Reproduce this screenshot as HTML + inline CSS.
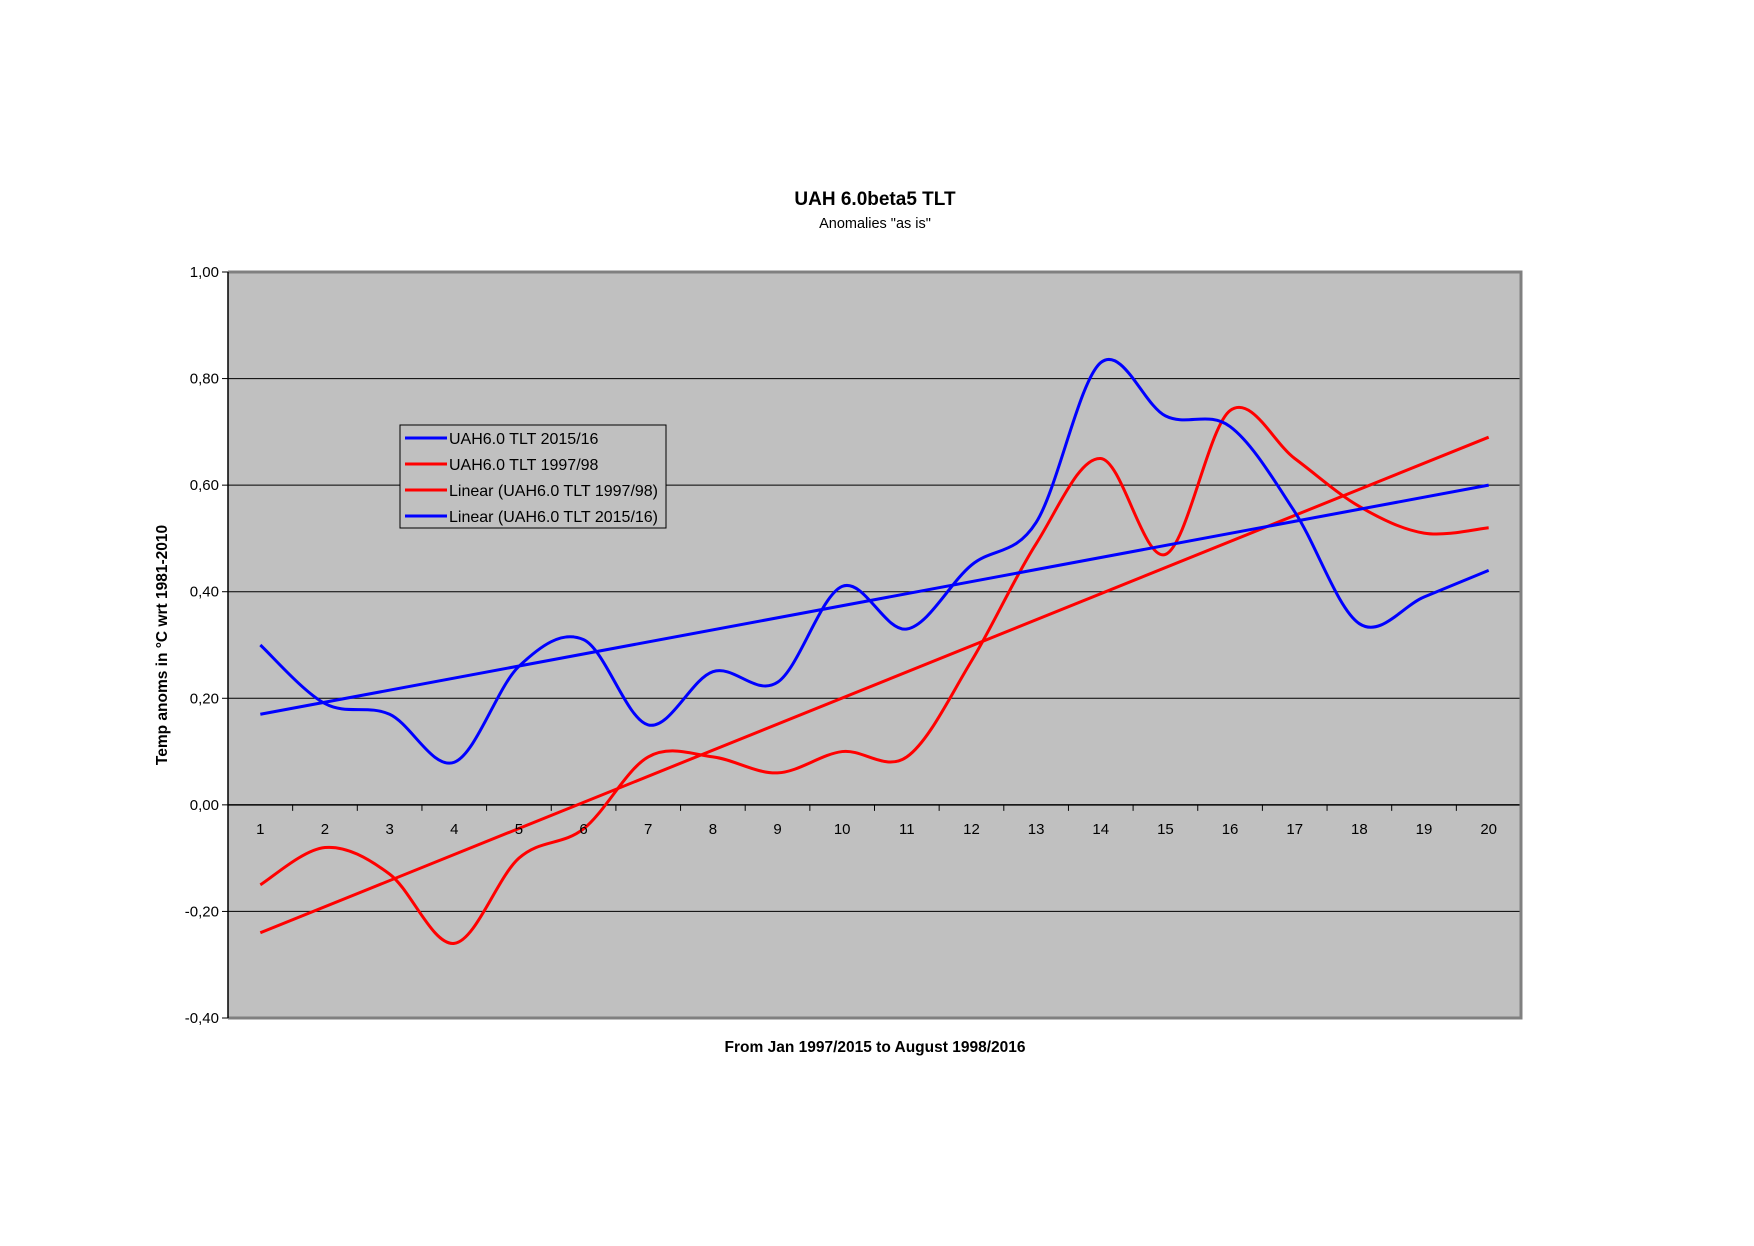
<!DOCTYPE html>
<html><head><meta charset="utf-8"><style>
html,body{margin:0;padding:0;background:#fff;}
svg{display:block;font-family:"Liberation Sans",Arial,sans-serif;}
</style></head><body>
<svg id="s" width="1754" height="1246" viewBox="0 0 1754 1246" xmlns="http://www.w3.org/2000/svg">
<rect x="0" y="0" width="1754" height="1246" fill="#fff"/>
<text x="875" y="205" font-size="19" font-weight="bold" text-anchor="middle">UAH 6.0beta5 TLT</text>
<text x="875" y="228" font-size="14.5" text-anchor="middle">Anomalies "as is"</text>
<rect x="228" y="272" width="1293" height="746" fill="#c0c0c0"/>
<g id="grid"></g>
<polyline points="228,272 1521,272 1521,1018 228,1018" fill="none" stroke="#808080" stroke-width="3"/>
<line x1="228" y1="272" x2="228" y2="1018" stroke="#000" stroke-width="1.5"/>
<g id="series"></g>
<rect x="400" y="425" width="266" height="103" fill="#c0c0c0" stroke="#000" stroke-width="1"/>
<line x1="405" y1="438" x2="447" y2="438" stroke="#0000ff" stroke-width="3"/>
<line x1="405" y1="464" x2="447" y2="464" stroke="#ff0000" stroke-width="3"/>
<line x1="405" y1="490" x2="447" y2="490" stroke="#ff0000" stroke-width="3"/>
<line x1="405" y1="516" x2="447" y2="516" stroke="#0000ff" stroke-width="3"/>
<g font-size="16">
<text x="449" y="444">UAH6.0 TLT 2015/16</text>
<text x="449" y="470">UAH6.0 TLT 1997/98</text>
<text x="449" y="496">Linear (UAH6.0 TLT 1997/98)</text>
<text x="449" y="522">Linear (UAH6.0 TLT 2015/16)</text>
</g>
<text x="1046" y="0" font-size="15.5" font-weight="bold" text-anchor="middle" transform="translate(-171,1052)">From Jan 1997/2015 to August 1998/2016</text>
<text font-size="15.5" font-weight="bold" text-anchor="middle" transform="translate(167,645) rotate(-90)">Temp anoms in °C wrt 1981-2010</text>
</svg>
<script>
var NS="http://www.w3.org/2000/svg";
var L=228,R=1521,T=272,B=1018;
function Y(v){return T+(1-v)/1.4*(B-T);}
function X(i){return L+(i+0.5)*(R-L)/20;}
function el(p,tag,a,txt){var e=document.createElementNS(NS,tag);for(var k in a)e.setAttribute(k,a[k]);if(txt!==undefined)e.textContent=txt;p.appendChild(e);return e;}
var g=document.getElementById('grid'),s=document.getElementById('s'),ser=document.getElementById('series');
var labs=["1,00","0,80","0,60","0,40","0,20","0,00","-0,20","-0,40"];
for(var k=0;k<8;k++){var v=1-k*0.2,y=Y(v);
 if(k>0&&k<7)el(g,'line',{x1:L,y1:y,x2:R,y2:y,stroke:'#000','stroke-width':k==5?1.5:1});
 el(g,'line',{x1:L-6,y1:y,x2:L,y2:y,stroke:'#000','stroke-width':1});
 el(s,'text',{x:219,y:y+5,'font-size':15,'text-anchor':'end'},labs[k]);}
var y0=Y(0);
for(var i=0;i<=20;i++){var x=L+i*(R-L)/20;el(g,'line',{x1:x,y1:y0,x2:x,y2:y0+6,stroke:'#000','stroke-width':1});}
for(var i=0;i<20;i++)el(s,'text',{x:X(i),y:y0+29,'font-size':15,'text-anchor':'middle'},String(i+1));
var blue=[0.30,0.19,0.17,0.08,0.26,0.31,0.15,0.25,0.23,0.41,0.33,0.45,0.53,0.83,0.73,0.71,0.55,0.34,0.39,0.44];
var red=[-0.15,-0.08,-0.13,-0.26,-0.10,-0.045,0.09,0.09,0.06,0.10,0.09,0.27,0.49,0.65,0.47,0.74,0.65,0.56,0.51,0.52];
function smooth(d){var P=d.map(function(v,i){return [X(i),Y(v)];});var p="M"+P[0][0]+","+P[0][1];
 for(var i=0;i<P.length-1;i++){var p0=P[Math.max(i-1,0)],p1=P[i],p2=P[i+1],p3=P[Math.min(i+2,P.length-1)];
 var c1=[p1[0]+(p2[0]-p0[0])/6,p1[1]+(p2[1]-p0[1])/6],c2=[p2[0]-(p3[0]-p1[0])/6,p2[1]-(p3[1]-p1[1])/6];
 p+=" C"+c1[0]+","+c1[1]+" "+c2[0]+","+c2[1]+" "+p2[0]+","+p2[1];}return p;}
function fit(d){var n=d.length,sx=0,sy=0,sxx=0,sxy=0;for(var i=0;i<n;i++){sx+=i;sy+=d[i];sxx+=i*i;sxy+=i*d[i];}
 var b=(n*sxy-sx*sy)/(n*sxx-sx*sx),a=(sy-b*sx)/n;return [a,a+b*(n-1)];}
var fr=[-0.24,0.69],fb=[0.17,0.60];
el(ser,'line',{x1:X(0),y1:Y(fr[0]),x2:X(19),y2:Y(fr[1]),stroke:'#ff0000','stroke-width':3});
el(ser,'path',{d:smooth(red),fill:'none',stroke:'#ff0000','stroke-width':3});
el(ser,'line',{x1:X(0),y1:Y(fb[0]),x2:X(19),y2:Y(fb[1]),stroke:'#0000ff','stroke-width':3});
el(ser,'path',{d:smooth(blue),fill:'none',stroke:'#0000ff','stroke-width':3});
</script>
</body></html>
